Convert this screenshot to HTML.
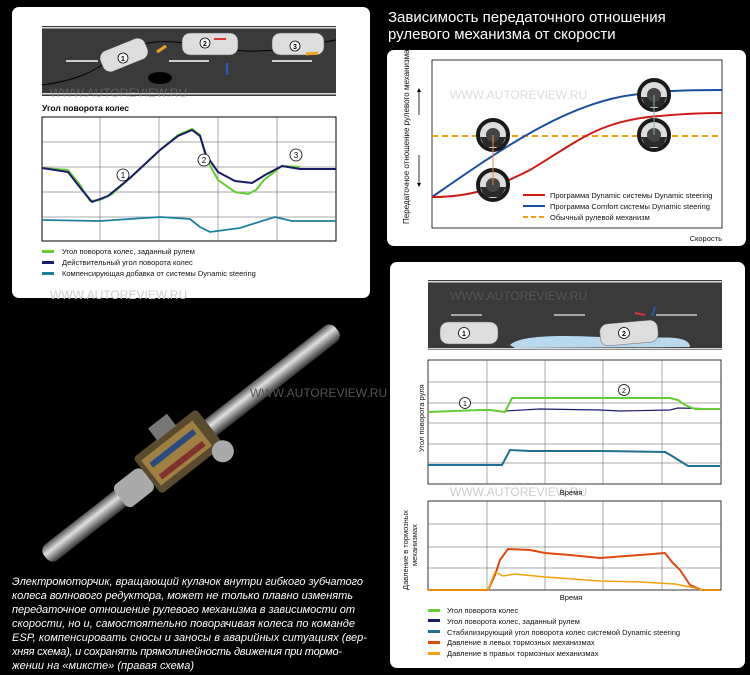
<!DOCTYPE html>
<html><head><meta charset="utf-8"><style>
html,body{margin:0;padding:0;background:#000;}
svg{display:block;font-family:"Liberation Sans",sans-serif;}
</style></head><body>
<svg width="750" height="675" viewBox="0 0 750 675" xmlns="http://www.w3.org/2000/svg">
<defs>
<linearGradient id="col" x1="0" y1="0" x2="0" y2="1">
<stop offset="0" stop-color="#555"/><stop offset="0.4" stop-color="#e0e0e0"/><stop offset="1" stop-color="#333"/>
</linearGradient>
<g id="wheel">
<circle r="15" fill="#ddd" stroke="#1a1a1a" stroke-width="4"/>
<path d="M-13 2 L13 2 L8 12 L-8 12Z" fill="#2a2a2a"/>
<circle r="7" fill="#444"/>
</g>
</defs>
<rect width="750" height="675" fill="#000"/>

<!-- PANEL 1 -->
<rect x="12" y="7" width="358" height="291" rx="7" fill="#fff"/>
<rect x="42" y="26" width="294" height="70" fill="#3a3a3a"/>
<rect x="42" y="27" width="294" height="1.5" fill="#ddd"/>
<rect x="42" y="93" width="294" height="1.5" fill="#ddd"/>
<g stroke="#fff" stroke-width="1.5"><line x1="66" y1="61" x2="98" y2="61"/><line x1="169" y1="61" x2="209" y2="61"/><line x1="272" y1="61" x2="312" y2="61"/></g>
<path d="M42 85 C80 80 95 70 110 60 C130 45 150 40 175 42 C210 44 220 50 245 51 C280 52 300 46 336 40" fill="none" stroke="#000" stroke-width="1"/>
<ellipse cx="160" cy="78" rx="12" ry="6" fill="#000"/>
<g fill="#ddd" stroke="#555" stroke-width="0.5">
<rect x="100" y="44" width="48" height="22" rx="8" transform="rotate(-22 124 55)"/>
<rect x="182" y="33" width="56" height="22" rx="8"/>
<rect x="272" y="33" width="52" height="22" rx="8"/>
</g>
<g fill="#fff" stroke="#000" stroke-width="0.8"><circle cx="123" cy="58" r="5"/><circle cx="205" cy="43" r="5"/><circle cx="295" cy="46" r="5"/></g>
<g font-size="7" font-weight="bold" text-anchor="middle"><text x="123" y="61">1</text><text x="205" y="46">2</text><text x="295" y="49">3</text></g>
<line x1="157" y1="52" x2="166" y2="46" stroke="#f0a020" stroke-width="3"/>
<line x1="214" y1="39" x2="226" y2="39" stroke="#d33" stroke-width="2"/>
<line x1="227" y1="75" x2="227" y2="63" stroke="#2a5ab0" stroke-width="2.5"/>
<line x1="306" y1="54" x2="318" y2="53" stroke="#f0a020" stroke-width="3"/>
<text x="50" y="97" font-size="12" fill="#888" opacity="0.5">WWW.AUTOREVIEW.RU</text>
<text x="42" y="111" font-size="8.5" font-weight="bold" fill="#000">Угол поворота колес</text>
<rect x="42" y="117" width="294" height="124" fill="#fff" stroke="#000" stroke-width="1"/>
<g stroke="#555" stroke-width="0.5"><line x1="100" y1="117" x2="100" y2="241"/><line x1="159" y1="117" x2="159" y2="241"/><line x1="218" y1="117" x2="218" y2="241"/><line x1="277" y1="117" x2="277" y2="241"/>
<line x1="42" y1="142" x2="336" y2="142"/><line x1="42" y1="167" x2="336" y2="167"/><line x1="42" y1="192" x2="336" y2="192"/><line x1="42" y1="217" x2="336" y2="217"/></g>
<path d="M42 168 L68 170 L80 185 L90 201 L100 200 L112 194 L130 178 L160 150 L178 135 L192 129 L200 135 L206 158 L218 180 L235 192 L248 194 L256 190 L264 180 L282 166 L300 167" fill="none" stroke="#6c3" stroke-width="2"/>
<path d="M42 168 L68 172 L82 190 L92 202 L108 196 L130 178 L160 150 L178 136 L192 130 L200 136 L206 155 L218 172 L235 181 L252 183 L265 175 L282 166 L300 169 L336 169" fill="none" stroke="#1a1a6a" stroke-width="2"/>
<path d="M42 220 L100 221 L130 219 L160 217 L190 219 L200 227 L210 232 L240 228 L262 221 L275 217 L292 221 L336 221" fill="none" stroke="#1f7fa0" stroke-width="1.8"/>
<g fill="#fff" stroke="#000" stroke-width="0.8"><circle cx="123" cy="175" r="6"/><circle cx="204" cy="160" r="6"/><circle cx="296" cy="155" r="6"/></g>
<g font-size="8" text-anchor="middle"><text x="123" y="178">1</text><text x="204" y="163">2</text><text x="296" y="158">3</text></g>
<g font-size="7.5" fill="#111">
<rect x="42" y="250" width="12" height="3" fill="#6c3"/><text x="62" y="254">Угол поворота колес, заданный рулем</text>
<rect x="42" y="261" width="12" height="3" fill="#1a1a6a"/><text x="62" y="265">Действительный угол поворота колес</text>
<rect x="42" y="272" width="12" height="3" fill="#1f7fa0"/><text x="62" y="276">Компенсирующая добавка от системы Dynamic steering</text>
</g>
<text x="50" y="299" font-size="12" fill="#ccc">WWW.AUTOREVIEW.RU</text>

<!-- PANEL 2 -->
<text x="388" y="22" font-size="15" fill="#fff">Зависимость передаточного отношения</text>
<text x="388" y="39" font-size="15" fill="#fff">рулевого механизма от скорости</text>
<rect x="387" y="50" width="359" height="196" rx="7" fill="#fff"/>
<rect x="432" y="60" width="290" height="168" fill="#fff" stroke="#000" stroke-width="0.8"/>
<text transform="translate(409 224) rotate(-90)" font-size="8" fill="#111">Передаточное отношение рулевого механизма</text>
<line x1="419" y1="115" x2="419" y2="90" stroke="#000" stroke-width="0.8"/><path d="M417 92 L419 88 L421 92Z"/>
<line x1="419" y1="155" x2="419" y2="185" stroke="#000" stroke-width="0.8"/><path d="M417 183 L419 187 L421 183Z"/>
<text x="450" y="99" font-size="12" fill="#ddd">WWW.AUTOREVIEW.RU</text>
<line x1="432" y1="136" x2="722" y2="136" stroke="#f0a010" stroke-width="2" stroke-dasharray="6,4"/>
<path d="M432 197 C500 150 570 100 640 94 C670 90 700 90 722 90" fill="none" stroke="#1a4fa0" stroke-width="2"/>
<path d="M432 197 C470 197 490 190 530 170 C580 140 600 120 660 116 C690 113 710 113 722 113" fill="none" stroke="#d01818" stroke-width="2"/>
<use href="#wheel" x="493" y="135"/><use href="#wheel" x="493" y="185"/><use href="#wheel" x="654" y="95"/><use href="#wheel" x="654" y="135"/>
<line x1="493" y1="135" x2="493" y2="185" stroke="#f08040" stroke-width="1"/>
<line x1="654" y1="95" x2="654" y2="135" stroke="#8aa" stroke-width="1"/>
<g font-size="7.5" fill="#111">
<line x1="523" y1="195" x2="545" y2="195" stroke="#d01818" stroke-width="2"/><text x="550" y="198">Программа Dynamic системы Dynamic steering</text>
<line x1="523" y1="206" x2="545" y2="206" stroke="#1a4fa0" stroke-width="2"/><text x="550" y="209">Программа Comfort системы Dynamic steering</text>
<line x1="523" y1="217" x2="545" y2="217" stroke="#f0a010" stroke-width="2" stroke-dasharray="5,3"/><text x="550" y="220">Обычный рулевой механизм</text>
<text x="722" y="241" text-anchor="end">Скорость</text>
</g>

<!-- PANEL 3 -->
<rect x="390" y="262" width="355" height="406" rx="7" fill="#fff"/>
<rect x="428" y="280" width="294" height="70" fill="#3a3a3a"/>
<rect x="428" y="281" width="294" height="1.5" fill="#ddd"/>
<rect x="428" y="348" width="294" height="1.5" fill="#ddd"/>
<g stroke="#ccc" stroke-width="1.5"><line x1="451" y1="315" x2="482" y2="315"/><line x1="554" y1="315" x2="585" y2="315"/><line x1="656" y1="315" x2="697" y2="315"/></g>
<path d="M510 345 C520 335 560 335 600 337 L650 338 C680 336 690 340 690 347 L515 348Z" fill="#b8d8ee"/>
<rect x="440" y="322" width="58" height="22" rx="8" fill="#ddd" stroke="#666" stroke-width="0.5"/>
<rect x="600" y="322" width="58" height="22" rx="8" fill="#ddd" stroke="#666" stroke-width="0.5" transform="rotate(-5 629 333)"/>
<g fill="#fff" stroke="#000" stroke-width="0.8"><circle cx="464" cy="333" r="5.5"/><circle cx="624" cy="333" r="5.5"/></g>
<g font-size="7" font-weight="bold" text-anchor="middle"><text x="464" y="336">1</text><text x="624" y="336">2</text></g>
<line x1="645" y1="315" x2="635" y2="313" stroke="#d33" stroke-width="2"/>
<line x1="652" y1="316" x2="655" y2="307" stroke="#2a5ab0" stroke-width="2"/>
<text x="450" y="300" font-size="12" fill="#555">WWW.AUTOREVIEW.RU</text>
<rect x="428" y="360" width="293" height="124" fill="#fff" stroke="#000" stroke-width="0.8"/>
<g stroke="#555" stroke-width="0.5"><line x1="487" y1="360" x2="487" y2="484"/><line x1="545" y1="360" x2="545" y2="484"/><line x1="603" y1="360" x2="603" y2="484"/><line x1="662" y1="360" x2="662" y2="484"/>
<line x1="428" y1="382" x2="721" y2="382"/><line x1="428" y1="403" x2="721" y2="403"/><line x1="428" y1="423" x2="721" y2="423"/><line x1="428" y1="444" x2="721" y2="444"/><line x1="428" y1="463" x2="721" y2="463"/></g>
<path d="M505 411 L540 409 L600 410 L620 411 L670 410 L678 408 L720 409" fill="none" stroke="#1a1a6a" stroke-width="1.2"/>
<path d="M428 412 L480 410 L490 410 L505 412 L512 398 L540 398 L600 398 L670 398 L678 400 L685 405 L695 409 L720 409" fill="none" stroke="#6c3" stroke-width="2"/>
<path d="M428 465 L502 465 L510 450 L530 451 L600 451 L665 452 L672 456 L680 461 L688 466 L720 466" fill="none" stroke="#1f7090" stroke-width="2"/>
<g fill="#fff" stroke="#000" stroke-width="0.8"><circle cx="465" cy="403" r="5.5"/><circle cx="624" cy="390" r="5.5"/></g>
<g font-size="7" text-anchor="middle"><text x="465" y="406">1</text><text x="624" y="393">2</text></g>
<text transform="translate(424 452) rotate(-90)" font-size="7.5" fill="#111">Угол поворота руля</text>
<text x="450" y="496" font-size="12" fill="#ccc">WWW.AUTOREVIEW.RU</text>
<text x="571" y="495" font-size="7.5" fill="#111" text-anchor="middle">Время</text>
<rect x="428" y="501" width="293" height="89" fill="#fff" stroke="#000" stroke-width="0.8"/>
<g stroke="#555" stroke-width="0.5"><line x1="487" y1="501" x2="487" y2="590"/><line x1="545" y1="501" x2="545" y2="590"/><line x1="603" y1="501" x2="603" y2="590"/><line x1="662" y1="501" x2="662" y2="590"/>
<line x1="428" y1="524" x2="721" y2="524"/><line x1="428" y1="547" x2="721" y2="547"/><line x1="428" y1="568" x2="721" y2="568"/></g>
<path d="M428 590 L488 590 L495 575 L500 560 L508 549 L530 550 L545 553 L570 555 L600 558 L640 555 L665 553 L672 562 L680 570 L690 585 L702 590 L720 590" fill="none" stroke="#e04810" stroke-width="2"/>
<path d="M428 590 L488 590 L495 572 L503 576 L515 574 L545 577 L560 578 L600 581 L640 582 L675 584 L685 586 L695 588 L702 590 L720 590" fill="none" stroke="#f0a010" stroke-width="1.5"/>
<text transform="translate(408 590) rotate(-90)" font-size="7.5" fill="#111">Давление в тормозных</text>
<text transform="translate(417 566) rotate(-90)" font-size="7.5" fill="#111">механизмах</text>
<text x="571" y="600" font-size="7.5" fill="#111" text-anchor="middle">Время</text>
<g font-size="7.5" fill="#111">
<rect x="428" y="609" width="12" height="3" fill="#6c3"/><text x="447" y="613">Угол поворота колес</text>
<rect x="428" y="619" width="12" height="3" fill="#1a1a6a"/><text x="447" y="624">Угол поворота колес, заданный рулем</text>
<rect x="428" y="630" width="12" height="3" fill="#1f7090"/><text x="447" y="635">Стабилизирующий угол поворота колес системой Dynamic steering</text>
<rect x="428" y="641" width="12" height="3" fill="#e04810"/><text x="447" y="645">Давление в левых тормозных механизмах</text>
<rect x="428" y="652" width="12" height="3" fill="#f0a010"/><text x="447" y="656">Давление в правых тормозных механизмах</text>
</g>

<!-- Steering column -->
<g transform="translate(195 440) rotate(-38)">
<rect x="-190" y="-10" width="370" height="20" rx="8" fill="url(#col)"/>
<rect x="-60" y="-24" width="80" height="46" rx="4" fill="#5a4a30"/>
<rect x="-55" y="-17" width="65" height="32" fill="#a08040"/>
<rect x="-50" y="-10" width="55" height="6" fill="#2a4a80"/>
<rect x="-50" y="5" width="55" height="6" fill="#803030"/>
<rect x="-95" y="-14" width="35" height="28" rx="6" fill="#aaa"/>
<rect x="-30" y="-38" width="24" height="15" fill="#777"/>
<circle cx="15" cy="26" r="11" fill="#aaa"/>
</g>
<text x="250" y="397" font-size="12" fill="#555">WWW.AUTOREVIEW.RU</text>

<g font-size="11" font-style="italic" fill="#fff">
<text x="12" y="585" textLength="351">Электромоторчик, вращающий кулачок внутри гибкого зубчатого</text>
<text x="12" y="599" textLength="341">колеса волнового редуктора, может не только плавно изменять</text>
<text x="12" y="613" textLength="343">передаточное отношение рулевого механизма в зависимости от</text>
<text x="12" y="627" textLength="343">скорости, но и, самостоятельно поворачивая колеса по команде</text>
<text x="12" y="641" textLength="355">ESP, компенсировать сносы и заносы в аварийных ситуациях (вер-</text>
<text x="12" y="655" textLength="330">хняя схема), и сохранять прямолинейность движения при тормо-</text>
<text x="12" y="669" textLength="182">жении на «миксте» (правая схема)</text>
</g>
</svg>
</body></html>
